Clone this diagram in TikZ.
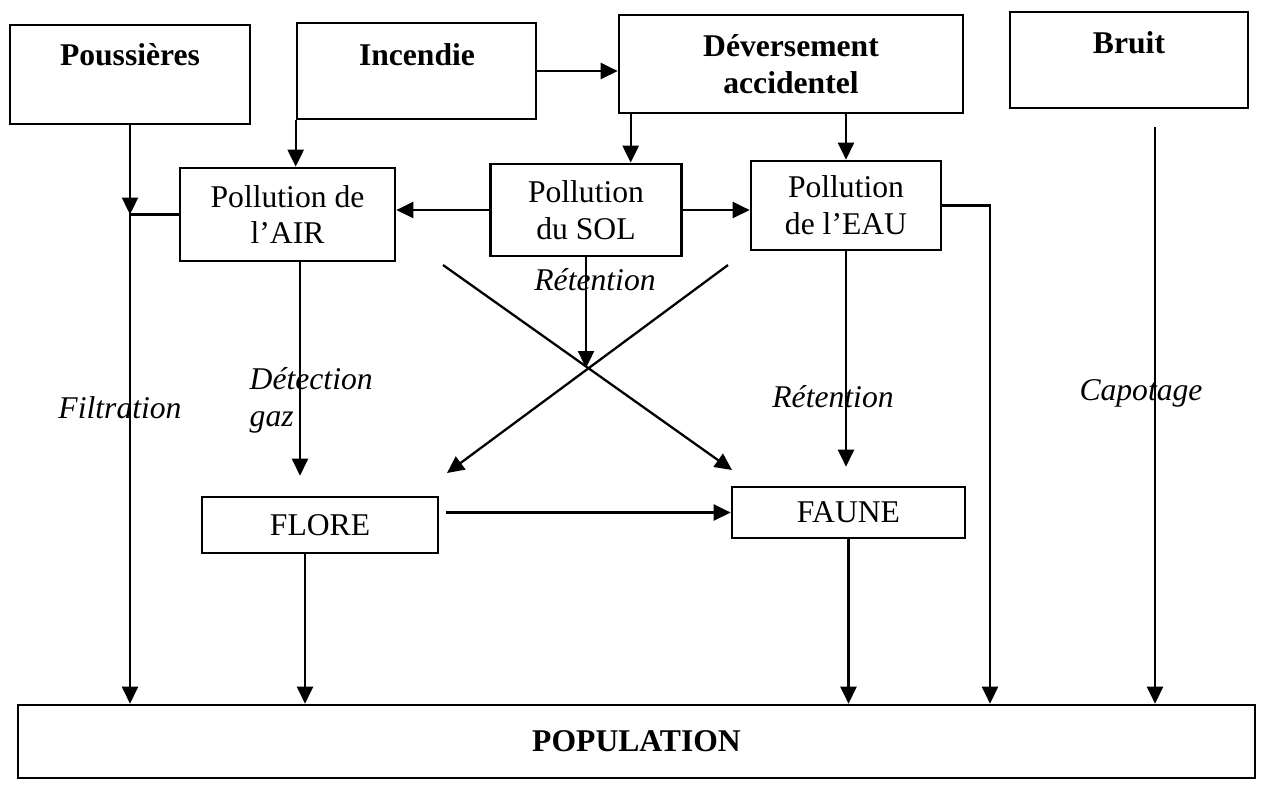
\documentclass[tikz,border=0pt]{standalone}
\usepackage{fontspec}
\setmainfont{Liberation Serif}
\usetikzlibrary{arrows.meta,positioning}
\newcommand{\diagsize}{\fontsize{9}{10.5}\selectfont}
\tikzset{
  box/.style={draw, line width=0.75pt, inner sep=0pt, align=center},
  boldtxt/.style={font=\diagsize\bfseries, inner sep=0pt},
  lab/.style={font=\diagsize\itshape, inner sep=0pt},
  arr/.style={line width=0.65pt, -{Triangle[length=0.17cm,width=0.16cm]}}
}

\begin{document}
\begin{tikzpicture}[font=\diagsize]
  \useasboundingbox (0,0) rectangle (12.62,-7.87);
  \node[box, minimum width=2.40cm, minimum height=0.99cm] (pous) at (1.30,-0.745) {};
  \node[boldtxt] (poustxt) at (1.30,-0.55) {Poussières};
  \node[box, minimum width=2.39cm, minimum height=0.96cm] (inc) at (4.165,-0.71) {};
  \node[boldtxt] (inctxt) at (4.17,-0.55) {Incendie};
  \node[box, minimum width=3.44cm, minimum height=0.98cm, font=\diagsize\bfseries] (dev) at (7.91,-0.64) {Déversement\\accidentel};
  \node[box, minimum width=2.38cm, minimum height=0.96cm] (bruit) at (11.29,-0.60) {};
  \node[boldtxt] (bruittxt) at (11.29,-0.43) {Bruit};
  \node[box, minimum width=2.15cm, minimum height=0.93cm] (air) at (2.875,-2.145) {Pollution de\\l’AIR};
  \node[box, minimum width=1.91cm, minimum height=0.92cm] (sol) at (5.86,-2.10) {Pollution\\du SOL};
  \node[box, minimum width=1.90cm, minimum height=0.89cm] (eau) at (8.46,-2.055) {Pollution\\de l’EAU};
  \node[box, minimum width=2.36cm, minimum height=0.56cm] (flore) at (3.20,-5.25) {FLORE};
  \node[box, minimum width=2.33cm, minimum height=0.51cm] (faune) at (8.485,-5.125) {FAUNE};
  \node[box, minimum width=12.37cm, minimum height=0.73cm, font=\diagsize\bfseries] (pop) at (6.365,-7.415) {POPULATION};

  \coordinate (jp) at (1.30,-2.145);
  \coordinate (cross) at (5.86,-3.68);
  \coordinate (xa) at (4.43,-2.65);
  \coordinate (xb) at (7.28,-2.65);
  \coordinate (xc) at (4.47,-4.73);
  \coordinate (xd) at (7.32,-4.70);
  \coordinate (eauout) at (9.90,-2.08);
  \coordinate (bruitout) at (11.55,-1.27);
  \coordinate (devsol) at ([xshift=0.13cm]dev.south west);
  \coordinate (airflore) at ([xshift=0.125cm]air.south);
  \coordinate (florepop) at ([xshift=-0.15cm]flore.south);

  \draw[arr] (inc.east) -- (inc.east -| dev.west);
  \draw[arr] (inc.south west) -- (inc.south west |- air.north);
  \draw[arr] (pous.south) -- (jp);
  \draw[arr] (air.west) -- (jp) -- (jp |- pop.north);
  \draw[arr] (sol.west) -- (sol.west -| air.east);
  \draw[arr] (sol.east) -- (sol.east -| eau.west);
  \draw[arr] (devsol) -- (devsol |- sol.north);
  \draw[arr] (eau.north |- dev.south) -- (eau.north);
  \draw[arr] (sol.south) -- (cross);
  \draw[arr] (xa) -- (xd);
  \draw[arr] (xb) -- (xc);
  \draw[arr, shorten >=0.2cm] (airflore) -- (airflore |- flore.north);
  \draw[arr, shorten <=0.07cm] (flore.east |- faune.west) -- (faune.west);
  \draw[arr, shorten >=0.19cm] (eau.south) -- (eau.south |- faune.north);
  \draw[arr] (eau.east) -| (eauout |- pop.north);
  \draw[arr] (bruitout) -- (bruitout |- pop.north);
  \draw[arr] (florepop) -- (florepop |- pop.north);
  \draw[arr] (faune.south) -- (faune.south |- pop.north);

  \node[lab] (ret1) at (5.95,-2.80) {Rétention};
  \node[lab, align=left, anchor=west] (detect) at (2.49,-4.00) {Détection\\gaz};
  \node[lab] (filtr) at (1.20,-4.08) {Filtration};
  \node[lab] (ret2) at (8.33,-3.97) {Rétention};
  \node[lab] (capot) at (11.41,-3.93) {Capotage};
\end{tikzpicture}
\end{document}
